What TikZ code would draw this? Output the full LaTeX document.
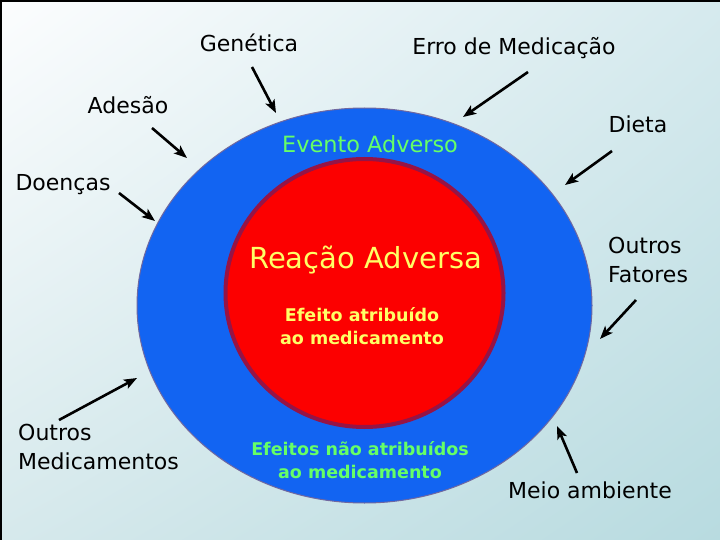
\documentclass[tikz,border=0pt]{standalone}
\usepackage{fontspec}
\setmainfont{DejaVu Sans}
\usetikzlibrary{arrows.meta,shapes.geometric,shadings}
\definecolor{bgUL}{RGB}{252,253,254}
\definecolor{bgUR}{RGB}{214,234,238}
\definecolor{bgLL}{RGB}{214,233,236}
\definecolor{bgLR}{RGB}{184,219,224}
\definecolor{outerblue}{RGB}{18,100,242}
\definecolor{outerline}{RGB}{112,104,160}
\definecolor{innerred}{RGB}{252,0,0}
\definecolor{innerline}{RGB}{150,20,70}
\definecolor{txtyellow}{RGB}{255,255,102}
\definecolor{txtgreen}{RGB}{102,255,102}
\begin{document}
\begin{tikzpicture}[x=1pt,y=-1pt,
  lbl/.style={inner sep=0pt,font=\fontsize{22}{29}\selectfont,text=black},
  arr/.style={line width=2.6pt,-{Stealth[length=13pt,width=10pt,inset=3pt]}},
  boldtxt/.style={inner sep=0pt,align=center,font=\fontsize{17.5}{23.5}\selectfont\bfseries}]
\useasboundingbox (0,0) rectangle (720,540);
\shade[upper left=bgUL,upper right=bgUR,lower left=bgLL,lower right=bgLR] (0,0) rectangle (720,540);
\draw[black,line width=2pt] (1,540) -- (1,1) -- (720,1);
% circles
\node[ellipse,draw=outerline,line width=1pt,fill=outerblue,minimum width=455pt,minimum height=395pt,inner sep=0pt] (outer) at (364.5,305.5) {};
\node[ellipse,draw=innerline,line width=4pt,fill=innerred,minimum width=278pt,minimum height=268pt,inner sep=0pt] (inner) at (364.5,293) {};
% texts inside
\node[inner sep=0pt,anchor=base,font=\fontsize{22.4}{28}\selectfont,text=txtgreen] (evento) at (370,153) {Evento Adverso};
\node[inner sep=0pt,anchor=base,font=\fontsize{29}{34}\selectfont,text=txtyellow] (reacao) at (365.5,268) {Reação Adversa};
\node[boldtxt,text=txtyellow] (efeito) at (362,326) {Efeito atribuído\\ao medicamento};
\node[boldtxt,text=txtgreen] (efeitos) at (360,460) {Efeitos não atribuídos\\ao medicamento};
% outer labels
\node[lbl,anchor=base] (gen) at (249,52) {Genética};
\node[lbl,anchor=base] (erro) at (514,55) {Erro de Medicação};
\node[lbl,anchor=base] (ades) at (128,114) {Adesão};
\node[lbl,anchor=base] (doen) at (63,191) {Doenças};
\node[lbl,anchor=base] (dieta) at (638,133) {Dieta};
\node[lbl,anchor=west,align=left] (outf) at (608,260) {Outros\\Fatores};
\node[lbl,anchor=west,align=left] (outm) at (18,447) {Outros\\Medicamentos};
\node[lbl,anchor=base] (meio) at (590,498) {Meio ambiente};
% arrow end points
\coordinate (genS) at (252,67);  \coordinate (genE) at (276,113);
\coordinate (erroS) at (528,72); \coordinate (erroE) at (463,117);
\coordinate (adesS) at (152,128); \coordinate (adesE) at (187,158);
\coordinate (doenS) at (119,193); \coordinate (doenE) at (155,221);
\coordinate (dietaS) at (612,151); \coordinate (dietaE) at (565,185);
\coordinate (outfS) at (636,300); \coordinate (outfE) at (600,339);
\coordinate (outmS) at (59,420); \coordinate (outmE) at (137,378);
\coordinate (meioS) at (577,473); \coordinate (meioE) at (557,426);
\draw[arr] (genS) -- (genE);
\draw[arr] (erroS) -- (erroE);
\draw[arr] (adesS) -- (adesE);
\draw[arr] (doenS) -- (doenE);
\draw[arr] (dietaS) -- (dietaE);
\draw[arr] (outfS) -- (outfE);
\draw[arr] (outmS) -- (outmE);
\draw[arr] (meioS) -- (meioE);
\end{tikzpicture}
\end{document}
